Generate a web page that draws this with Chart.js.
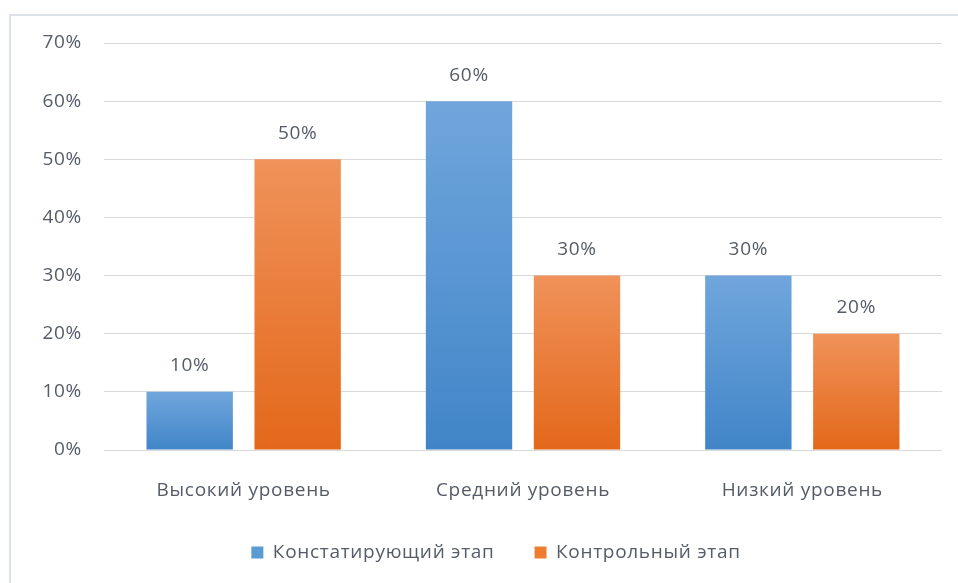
<!DOCTYPE html>
<html>
<head>
<meta charset="utf-8">
<script src="https://cdn.jsdelivr.net/npm/chart.js@4"></script>
<style>
  html, body { margin: 0; padding: 0; background: #fff; }
  #wrap { position: relative; width: 958px; height: 583px; overflow: hidden; }
  #frame { position: absolute; left: 9px; top: 14px; width: 980px; height: 600px;
           border-left: 2px solid #dde2e9; border-top: 2px solid #dde2e9; }
  canvas { position: absolute; left: 0; top: 0; }
</style>
</head>
<body>
<div id="wrap">
  <div id="frame"></div>
  <canvas id="levels-chart" width="958" height="583"></canvas>
</div>
<script>
const categories = ['Высокий уровень', 'Средний уровень', 'Низкий уровень'];
const seriesNames = ['Констатирующий этап', 'Контрольный этап'];
const ascertainingValues = [10, 60, 30];
const controlValues = [50, 30, 20];
const yTicks = [0, 10, 20, 30, 40, 50, 60, 70];

const textColor = '#555c68';
const fontFamily = '"Open Sans", "Noto Sans", sans-serif';

function barGradient(top, bottom) {
    return function(context) {
        const chart = context.chart;
        if (!chart.chartArea || context.parsed === undefined) return top;
        const yScale = chart.scales.y;
        const y0 = yScale.getPixelForValue(0);
        const y1 = yScale.getPixelForValue(context.parsed.y);
        const g = chart.ctx.createLinearGradient(0, y1, 0, y0);
        g.addColorStop(0, top);
        g.addColorStop(1, bottom);
        return g;
    };
}

// the original text is a bit wider than Open Sans
const letterSpacing = {
    id: 'letterSpacing',
    beforeUpdate(chart) { chart.ctx.letterSpacing = '0.7px'; },
    beforeDraw(chart) { chart.ctx.letterSpacing = '0.7px'; }
};

// legend sits a little right of centre in the original
const legendShift = {
    id: 'legendShift',
    afterLayout(chart) { chart.legend.left += 50; }
};

// value labels above the bars
const valueLabels = {
    id: 'valueLabels',
    afterDatasetsDraw(chart) {
        const ctx = chart.ctx;
        ctx.save();
        ctx.font = '19px ' + fontFamily;
        ctx.fillStyle = textColor;
        ctx.textAlign = 'center';
        ctx.textBaseline = 'middle';
        chart.data.datasets.forEach((ds, i) => {
            chart.getDatasetMeta(i).data.forEach((bar, j) => {
                ctx.fillText(ds.data[j] + '%', bar.x, bar.y - 26);
            });
        });
        ctx.restore();
    }
};

const ctx = document.getElementById('levels-chart').getContext('2d');
const levelsChart = new Chart(ctx, {
    type: 'bar',
    data: {
        labels: categories,
        datasets: [{
            label: seriesNames[0],
            data: ascertainingValues,
            backgroundColor: barGradient('#70a6dc', '#4185c8'),
            borderWidth: 0,
            categoryPercentage: 0.773,
            barPercentage: 0.8
        }, {
            label: seriesNames[1],
            data: controlValues,
            backgroundColor: barGradient('#f0925a', '#e3681a'),
            borderWidth: 0,
            categoryPercentage: 0.773,
            barPercentage: 0.8
        }]
    },
    options: {
        responsive: false,
        animation: false,
        layout: { padding: { left: 0, right: 16, top: 43, bottom: 11 } },
        scales: {
            x: {
                grid: { display: false, drawTicks: false },
                border: { display: false },
                ticks: { color: textColor, font: { family: fontFamily, size: 19 }, padding: 29 },
                afterFit(scale) { scale.height = 53; }
            },
            y: {
                min: 0,
                max: 70,
                afterBuildTicks(scale) { scale.ticks = yTicks.map(v => ({ value: v })); },
                grid: { color: '#d9d9d9', drawTicks: false },
                border: { display: false },
                ticks: {
                    color: textColor,
                    font: { family: fontFamily, size: 19 },
                    padding: 22,
                    callback: v => v + '%'
                },
                afterFit(scale) { scale.width = 104; }
            }
        },
        plugins: {
            legend: {
                position: 'bottom',
                labels: {
                    color: textColor,
                    font: { family: fontFamily, size: 19 },
                    boxWidth: 12,
                    boxHeight: 12,
                    padding: 40,
                    generateLabels(chart) {
                        const fills = ['#5b9bd5', '#ed7d31'];
                        return chart.data.datasets.map((ds, i) => ({
                            text: ds.label,
                            fillStyle: fills[i],
                            strokeStyle: fills[i],
                            lineWidth: 0,
                            fontColor: textColor,
                            datasetIndex: i
                        }));
                    }
                }
            },
            tooltip: { enabled: false }
        }
    },
    plugins: [letterSpacing, legendShift, valueLabels]
});
</script>
</body>
</html>
